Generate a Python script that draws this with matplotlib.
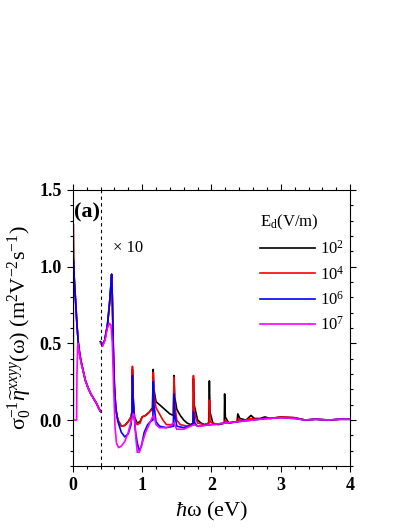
import numpy as np
import matplotlib
matplotlib.use("Agg")
import matplotlib.pyplot as plt
from matplotlib.ticker import MultipleLocator

plt.rcParams["font.family"] = "Liberation Serif"
plt.rcParams["mathtext.fontset"] = "custom"
plt.rcParams["mathtext.rm"] = "Liberation Serif"
plt.rcParams["mathtext.it"] = "Liberation Serif:italic"
plt.rcParams["mathtext.bf"] = "Liberation Serif:bold"

# fields and colours
field_labels = ["10$^2$", "10$^4$", "10$^6$", "10$^7$"]
colors = ["black", "red", "blue", "magenta"]

# low-energy part (hw < 0.4 eV), unscaled
low_x = [0.006, 0.006, 0.01, 0.015, 0.02, 0.03, 0.04, 0.05, 0.06, 0.07, 0.08,
         0.1, 0.12, 0.15, 0.18, 0.22, 0.26, 0.3, 0.34, 0.37, 0.4]
low_red = [0.0, 1.28, 1.05, 1.0, 0.93, 0.85, 0.78, 0.7, 0.62, 0.56, 0.5,
           0.43, 0.38, 0.32, 0.26, 0.21, 0.17, 0.14, 0.11, 0.08, 0.055]
low_blue = [0.0, 1.05, 1.03, 1.0, 0.93, 0.85, 0.78, 0.7, 0.62, 0.56, 0.5,
            0.43, 0.38, 0.32, 0.26, 0.21, 0.17, 0.14, 0.11, 0.08, 0.055]
low_mag_x = [0.006, 0.055, 0.06, 0.07, 0.075, 0.08, 0.1, 0.12, 0.15, 0.18,
             0.22, 0.26, 0.3, 0.34, 0.37, 0.4]
low_mag = [0.0, 0.0, 0.3, 0.48, 0.5, 0.48, 0.42, 0.37, 0.32, 0.26,
           0.21, 0.17, 0.14, 0.11, 0.08, 0.055]

# high-energy part (hw > 0.4 eV), shown x10
hi_black = [(0.4, 0.51), (0.43, 0.49), (0.46, 0.52), (0.5, 0.62), (0.53, 0.76),
            (0.55, 0.88), (0.56, 0.95), (0.57, 0.8), (0.585, 0.45), (0.6, 0.22),
            (0.62, 0.07), (0.65, 0.0), (0.7, -0.04), (0.75, -0.035), (0.8, -0.01),
            (0.84, 0.02), (0.855, 0.06), (0.86, 0.33), (0.87, 0.15), (0.89, 0.02),
            (0.93, -0.02), (0.97, -0.01), (1.0, 0.02), (1.05, 0.03), (1.1, 0.05),
            (1.15, 0.08), (1.16, 0.33), (1.17, 0.2), (1.2, 0.12), (1.25, 0.1),
            (1.3, 0.08), (1.35, 0.06), (1.4, 0.04), (1.45, 0.03), (1.46, 0.29),
            (1.47, 0.15), (1.5, 0.07), (1.55, 0.03), (1.6, 0.0), (1.65, -0.02),
            (1.7, -0.03), (1.735, -0.02), (1.74, 0.27), (1.75, 0.1), (1.8, 0.0),
            (1.85, -0.02), (1.9, -0.03), (1.96, -0.02), (1.97, 0.255), (1.98, 0.05),
            (2.02, -0.02), (2.1, -0.03), (2.185, -0.02), (2.19, 0.17), (2.2, 0.02),
            (2.25, -0.02), (2.3, -0.015), (2.37, -0.01), (2.38, 0.04), (2.41, 0.01),
            (2.5, 0.0), (2.57, 0.03), (2.62, 0.01), (2.7, 0.01), (2.77, 0.02),
            (2.85, 0.01), (3.0, 0.02), (3.2, 0.015), (3.35, 0.0), (3.5, 0.005),
            (3.7, 0.0), (3.85, 0.005), (4.0, 0.005)]
hi_red = [(0.4, 0.51), (0.43, 0.49), (0.46, 0.52), (0.5, 0.62), (0.53, 0.76),
          (0.55, 0.88), (0.56, 0.95), (0.57, 0.8), (0.585, 0.45), (0.6, 0.22),
          (0.62, 0.07), (0.65, 0.0), (0.7, -0.04), (0.75, -0.035), (0.8, -0.01),
          (0.84, 0.02), (0.855, 0.06), (0.86, 0.35), (0.87, 0.15), (0.89, 0.0),
          (0.93, -0.03), (0.97, -0.02), (1.0, 0.02), (1.05, 0.03), (1.1, 0.05),
          (1.15, 0.07), (1.16, 0.31), (1.17, 0.17), (1.2, 0.08), (1.25, 0.04),
          (1.3, 0.0), (1.35, -0.03), (1.45, -0.03), (1.46, 0.28), (1.47, 0.1),
          (1.5, 0.0), (1.55, -0.03), (1.65, -0.04), (1.735, -0.03), (1.74, 0.29),
          (1.75, 0.05), (1.8, -0.02), (1.9, -0.03), (1.965, -0.02), (1.97, 0.13),
          (1.98, -0.01), (2.05, -0.03), (2.19, -0.02), (2.2, 0.0), (2.25, -0.02),
          (2.38, -0.01), (2.39, 0.01), (2.42, -0.005), (2.5, 0.0), (2.57, 0.01),
          (2.62, 0.005), (2.77, 0.01), (2.85, 0.01), (3.0, 0.02), (3.2, 0.015),
          (3.35, 0.0), (3.5, 0.005), (3.7, 0.0), (3.85, 0.005), (4.0, 0.005)]
hi_blue = [(0.4, 0.51), (0.43, 0.49), (0.46, 0.52), (0.5, 0.62), (0.53, 0.76),
           (0.55, 0.88), (0.56, 0.95), (0.57, 0.8), (0.585, 0.45), (0.6, 0.22),
           (0.62, 0.08), (0.65, -0.01), (0.7, -0.08), (0.75, -0.11), (0.8, -0.09),
           (0.84, -0.03), (0.855, 0.05), (0.86, 0.29), (0.87, 0.12), (0.9, -0.06),
           (0.93, -0.15), (0.96, -0.2), (0.99, -0.17), (1.03, -0.08), (1.08, -0.03),
           (1.12, -0.01), (1.155, 0.0), (1.16, 0.25), (1.17, 0.1), (1.2, -0.01),
           (1.25, -0.04), (1.35, -0.05), (1.455, -0.04), (1.46, 0.17), (1.47, 0.04),
           (1.5, -0.04), (1.6, -0.05), (1.735, -0.03), (1.74, 0.055), (1.76, -0.02),
           (1.8, -0.04), (2.0, -0.03), (2.2, -0.02), (2.4, -0.01), (2.6, 0.0),
           (2.78, 0.01), (3.0, 0.015), (3.2, 0.01), (3.35, 0.0), (3.5, 0.005),
           (3.7, 0.0), (3.85, 0.005), (4.0, 0.005)]
hi_mag = [(0.4, 0.5), (0.43, 0.48), (0.47, 0.53), (0.5, 0.6), (0.53, 0.63),
          (0.55, 0.62), (0.57, 0.5), (0.59, 0.2), (0.61, -0.05), (0.63, -0.15),
          (0.66, -0.18), (0.7, -0.17), (0.75, -0.14), (0.8, -0.08), (0.84, -0.01),
          (0.87, 0.04), (0.89, 0.03), (0.91, -0.12), (0.93, -0.21), (0.96, -0.21),
          (1.0, -0.15), (1.05, -0.08), (1.1, -0.03), (1.15, 0.02), (1.17, 0.03),
          (1.2, -0.03), (1.25, -0.05), (1.35, -0.05), (1.4, -0.04), (1.45, -0.02),
          (1.47, -0.03), (1.5, -0.06), (1.6, -0.06), (1.7, -0.04), (1.75, -0.03),
          (1.8, -0.04), (2.0, -0.03), (2.2, -0.02), (2.4, -0.01), (2.6, 0.0),
          (2.8, 0.01), (3.0, 0.015), (3.2, 0.01), (3.35, 0.0), (3.5, 0.005),
          (3.7, 0.0), (3.85, 0.005), (4.0, 0.005)]

low_parts = [(low_x, low_red), (low_x, low_red), (low_x, low_blue), (low_mag_x, low_mag)]
hi_parts = [hi_black, hi_red, hi_blue, hi_mag]

fig = plt.figure(figsize=(4.09, 5.29), dpi=100)
ax = fig.add_axes([0.178, 0.119, 0.678, 0.522])

for (lx, ly), hi, c, lab in zip(low_parts, hi_parts, colors, field_labels):
    hx, hy = np.array(hi).T
    ax.plot(lx, ly, color=c, lw=1.2)
    ax.plot(hx, hy, color=c, lw=1.2, label=lab)

ax.axvline(0.4, color="black", lw=0.8, ls=(0, (3, 3)))

ax.set_xlim(0, 4)
ax.set_ylim(-0.3, 1.5)
ax.xaxis.set_minor_locator(MultipleLocator(0.2))
ax.yaxis.set_minor_locator(MultipleLocator(0.1))
ax.set_yticks([0.0, 0.5, 1.0, 1.5])
ax.set_yticklabels(["0.0", "0.5", "1.0", "1.5"], fontweight="bold")
ax.set_xticks([0, 1, 2, 3, 4])
ax.set_xticklabels(["0", "1", "2", "3", "4"], fontweight="bold")
ax.tick_params(which="both", direction="out", top=True, right=True, width=0.8)
ax.tick_params(which="major", length=4.5, labelsize=13)
ax.tick_params(which="minor", length=2.5)

ax.set_xlabel(r"$\hbar\mathrm{\omega}$ (eV)", fontsize=16)
ax.set_ylabel(r"$\mathrm{\sigma}_0^{-1}\widetilde{\eta}^{xxyy}(\mathrm{\omega})$ (m$^2$V$^{-2}$s$^{-1}$)",
              fontsize=16, labelpad=4)

ax.text(0.02, 1.35, "(a)", fontsize=16, fontweight="bold", va="center")
ax.text(0.58, 1.12, "× 10", fontsize=12, va="center")

leg = ax.legend(title=r"E$_\mathrm{d}$(V/m)", loc="upper left", bbox_to_anchor=(0.62, 0.97),
                frameon=False, fontsize=12, title_fontsize=12, handlelength=3.3,
                handletextpad=0.3, labelspacing=0.45, alignment="left")

fig.savefig("out.png", dpi=100)
